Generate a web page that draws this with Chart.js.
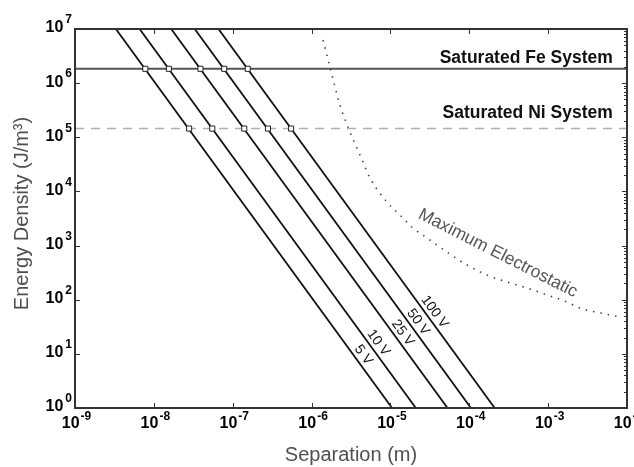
<!DOCTYPE html>
<html>
<head>
<meta charset="utf-8">
<script src="https://cdn.jsdelivr.net/npm/chart.js@4.4.1/dist/chart.umd.min.js"></script>
<style>
  html, body { margin: 0; padding: 0; background: #fff; }
</style>
</head>
<body>
<canvas id="chart" width="634" height="467"></canvas>
<script>
// values: separation in m, energy density in J/m^3
const voltages = ['5 V', '10 V', '25 V', '50 V', '100 V'];
const lineTopSep = [3.3e-9, 6.6e-9, 1.66e-8, 3.3e-8, 6.6e-8];      // where each line leaves the top (1e7)
const lineBottomSep = [1.05e-5, 2.1e-5, 5.3e-5, 1.05e-4, 2.1e-4];  // where each line hits the bottom (1)
const lineTopEnergy = 1e7;
const lineBottomEnergy = 1;

const feLevel = 1.84e6;
const niLevel = 1.45e5;
const feMarkerSep = [7.8e-9, 1.55e-8, 3.9e-8, 7.8e-8, 1.55e-7];
const niMarkerSep = [2.8e-8, 5.5e-8, 1.4e-7, 2.8e-7, 5.5e-7];

const maxElecSep = [1.40e-6, 1.71e-6, 2.29e-6, 3.07e-6, 4.11e-6, 5.51e-6, 9.0e-6, 1.32e-5, 1.93e-5,
  2.91e-5, 5.21e-5, 9.35e-5, 1.67e-4, 3.0e-4, 5.4e-4, 9.7e-4, 1.73e-3, 2.54e-3, 4.54e-3, 8.15e-3];
const maxElecEnergy = [6.27e6, 1.99e6, 3.94e5, 1.25e5, 4.71e4, 1.77e4, 6.4e3, 3.66e3, 2.11e3,
  1.38e3, 760, 438, 286, 212, 164, 122, 91, 70, 57, 48];

const xTickExps = ['-9', '-8', '-7', '-6', '-5', '-4', '-3', '-2'];
const yTickExps = ['0', '1', '2', '3', '4', '5', '6', '7'];

const FONT = '"Liberation Sans", Arial, sans-serif';

const datasets = [];
datasets.push({
  label: 'Fe markers',
  data: feMarkerSep.map(x => ({ x, y: feLevel })),
  showLine: false, pointStyle: 'rect', pointRadius: 3.6,
  backgroundColor: '#fff', borderColor: '#222', borderWidth: 1
});
datasets.push({
  label: 'Ni markers',
  data: niMarkerSep.map(x => ({ x, y: niLevel })),
  showLine: false, pointStyle: 'rect', pointRadius: 3.6,
  backgroundColor: '#fff', borderColor: '#222', borderWidth: 1
});
voltages.forEach((v, i) => {
  datasets.push({
    label: v,
    data: [{ x: lineTopSep[i], y: lineTopEnergy }, { x: lineBottomSep[i], y: lineBottomEnergy }],
    showLine: true, pointRadius: 0, borderColor: '#111', borderWidth: 1.8
  });
});
datasets.push({
  label: 'Saturated Fe System',
  data: [{ x: 1e-9, y: feLevel }, { x: 1e-2, y: feLevel }],
  showLine: true, pointRadius: 0, borderColor: '#555', borderWidth: 2
});
datasets.push({
  label: 'Saturated Ni System',
  data: [{ x: 1e-9, y: niLevel }, { x: 1e-2, y: niLevel }],
  showLine: true, pointRadius: 0, borderColor: '#b0b0b0', borderWidth: 1.5, borderDash: [9, 7]
});
datasets.push({
  label: 'Maximum Electrostatic',
  data: maxElecSep.map((x, i) => ({ x, y: maxElecEnergy[i] })),
  showLine: true, pointRadius: 0, borderColor: '#444', borderWidth: 1.6,
  borderDash: [1.5, 6], cubicInterpolationMode: 'monotone'
});

// text placement along each voltage line (energy where the label sits)
const voltLabelAt = [7.8, 13, 19.9, 31.7, 48.5];

const decor = {
  id: 'decor',
  afterDatasetsDraw(chart) {
    const { ctx, chartArea: a, scales: { x, y } } = chart;
    ctx.save();

    // frame
    ctx.strokeStyle = '#333';
    ctx.lineWidth = 2;
    ctx.strokeRect(a.left, a.top, a.right - a.left, a.bottom - a.top);

    // ticks, pointing inward
    ctx.lineWidth = 1;
    ctx.beginPath();
    xTickExps.forEach(e => {
      const px = Math.round(x.getPixelForValue(Math.pow(10, +e))) + 0.5;
      ctx.moveTo(px, a.bottom); ctx.lineTo(px, a.bottom - 5);
      ctx.moveTo(px, a.top); ctx.lineTo(px, a.top + 5);
    });
    yTickExps.forEach(e => {
      const py = Math.round(y.getPixelForValue(Math.pow(10, +e))) + 0.5;
      ctx.moveTo(a.left, py); ctx.lineTo(a.left + 5, py);
      ctx.moveTo(a.right, py); ctx.lineTo(a.right - 5, py);
      if (+e < 7) {
        for (let m = 2; m < 10; m++) {
          const pm = Math.round(y.getPixelForValue(m * Math.pow(10, +e))) + 0.5;
          ctx.moveTo(a.right, pm); ctx.lineTo(a.right - 3, pm);
        }
      }
    });
    ctx.stroke();

    // tick labels: 10 with superscript exponent
    ctx.fillStyle = '#000';
    ctx.textBaseline = 'middle';
    const baseFont = 'bold 16px ' + FONT;
    const expFont = 'bold 12px ' + FONT;
    yTickExps.forEach(e => {
      const py = y.getPixelForValue(Math.pow(10, +e));
      ctx.font = expFont;
      const ew = ctx.measureText(e).width;
      ctx.textAlign = 'right';
      ctx.fillText(e, a.left - 3, py - 9);
      ctx.font = baseFont;
      ctx.fillText('10', a.left - 5 - ew, py - 1);
    });
    xTickExps.forEach(e => {
      const px = x.getPixelForValue(Math.pow(10, +e));
      ctx.font = expFont;
      const ew = ctx.measureText(e).width;
      ctx.font = baseFont;
      const bw = ctx.measureText('10').width;
      const start = px - (bw + ew) / 2 + 1;
      ctx.textAlign = 'left';
      ctx.fillText('10', start, a.bottom + 16);
      ctx.font = expFont;
      ctx.fillText(e, start + bw + 1, a.bottom + 9);
    });

    // axis titles
    ctx.fillStyle = '#505050';
    ctx.font = '20px ' + FONT;
    ctx.textAlign = 'center';
    ctx.fillText('Separation (m)', (a.left + a.right) / 2, a.bottom + 47);
    ctx.save();
    ctx.translate(22, (a.top + a.bottom) / 2 - 5);
    ctx.rotate(-Math.PI / 2);
    ctx.fillText('Energy Density (J/m\u00B3)', 0, 0);
    ctx.restore();

    // system labels
    ctx.fillStyle = '#111';
    ctx.font = 'bold 17.5px ' + FONT;
    ctx.textAlign = 'right';
    ctx.fillText('Saturated Fe System', x.getPixelForValue(6.6e-3), y.getPixelForValue(2.9e6));
    ctx.fillText('Saturated Ni System', x.getPixelForValue(6.6e-3), y.getPixelForValue(2.8e5));

    // voltage labels along lines
    ctx.font = '14px ' + FONT;
    ctx.textAlign = 'center';
    voltages.forEach((v, i) => {
      const x1 = x.getPixelForValue(lineTopSep[i]), y1 = y.getPixelForValue(lineTopEnergy);
      const x2 = x.getPixelForValue(lineBottomSep[i]), y2 = y.getPixelForValue(lineBottomEnergy);
      const t = (Math.log10(lineTopEnergy) - Math.log10(voltLabelAt[i])) /
                (Math.log10(lineTopEnergy) - Math.log10(lineBottomEnergy));
      ctx.save();
      ctx.translate(x1 + t * (x2 - x1), y1 + t * (y2 - y1));
      ctx.rotate(Math.atan2(y2 - y1, x2 - x1));
      ctx.fillText(v, 0, -8);
      ctx.restore();
    });

    // curve label
    ctx.fillStyle = '#555';
    ctx.font = '17.5px ' + FONT;
    ctx.save();
    ctx.translate(x.getPixelForValue(2.3e-4), y.getPixelForValue(720));
    ctx.rotate(27 * Math.PI / 180);
    ctx.fillText('Maximum Electrostatic', 0, 0);
    ctx.restore();

    ctx.restore();
  }
};

new Chart(document.getElementById('chart'), {
  type: 'scatter',
  data: { datasets },
  options: {
    responsive: false,
    animation: false,
    layout: { padding: { top: 29, right: 7, left: 0, bottom: 0 } },
    plugins: { legend: { display: false }, tooltip: { enabled: false } },
    scales: {
      x: {
        type: 'logarithmic', min: 1e-9, max: 1e-2,
        ticks: { display: false }, grid: { display: false }, border: { display: false },
        afterFit: s => { s.height = 59; }
      },
      y: {
        type: 'logarithmic', min: 1, max: 1e7,
        ticks: { display: false }, grid: { display: false }, border: { display: false },
        afterFit: s => { s.width = 75; }
      }
    }
  },
  plugins: [decor]
});
</script>
</body>
</html>
